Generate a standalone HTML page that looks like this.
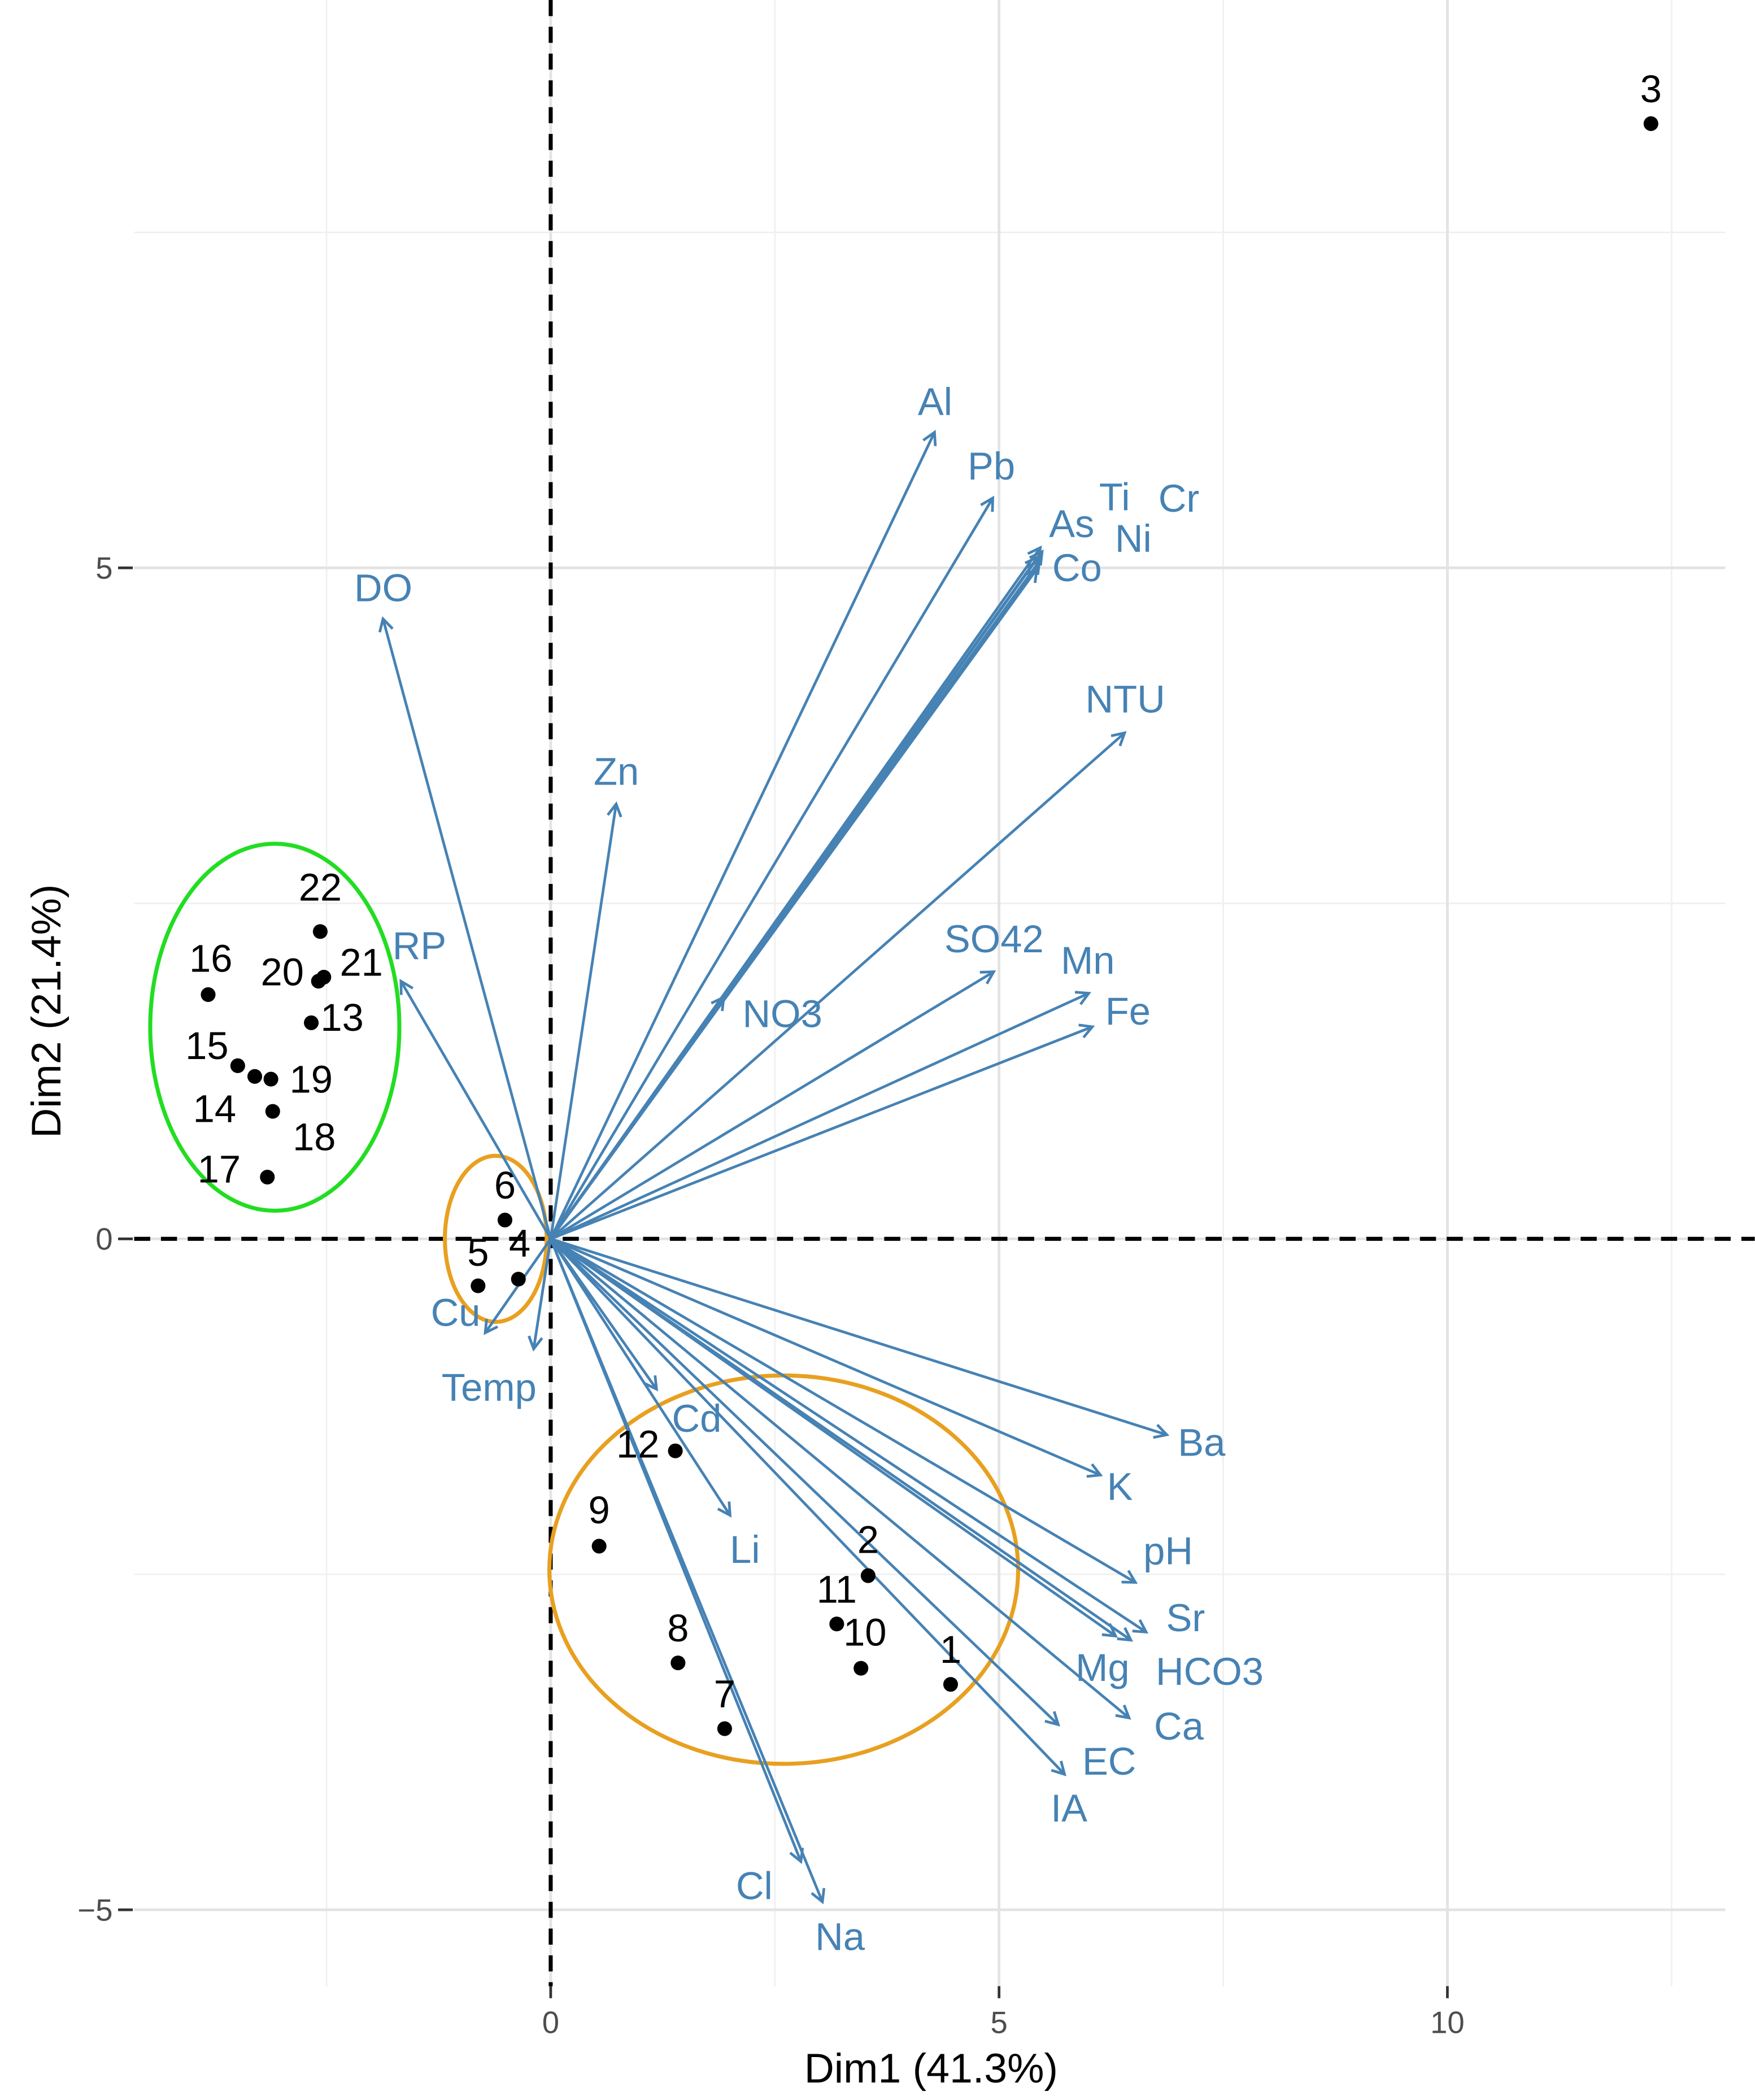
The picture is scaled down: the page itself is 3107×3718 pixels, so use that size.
<!DOCTYPE html>
<html><head><meta charset="utf-8"><style>
html,body{margin:0;padding:0;background:#fff;}
svg{display:block;font-family:"Liberation Sans",sans-serif;}
</style></head><body>
<svg id="chart" width="3107" height="3718" viewBox="0 0 1310 1568" xmlns="http://www.w3.org/2000/svg">
<defs><marker id="ah" markerWidth="12" markerHeight="12" refX="10" refY="6" orient="auto" markerUnits="userSpaceOnUse"><path d="M1,1 L10,6 L1,11" fill="none" stroke="#4682b4" stroke-width="2"/></marker></defs>
<g id="grid"></g>
<g id="ellipses"></g>
<g id="arrows"></g>
<g id="points"></g>
<g id="axes"></g>
</svg>
<script>
const ptLabels=["3","22","21","20","13","16","15","14","19","18","17","6","5","4","12","9","2","11","10","1","8","7"];
const ptX=[12.27,-2.57,-2.53,-2.59,-2.67,-3.82,-3.49,-3.30,-3.12,-3.10,-3.16,-0.51,-0.81,-0.36,1.39,0.54,3.54,3.19,3.46,4.46,1.42,1.94];
const ptY=[8.31,2.29,1.95,1.92,1.61,1.82,1.29,1.21,1.19,0.95,0.46,0.14,-0.35,-0.30,-1.58,-2.29,-2.51,-2.87,-3.20,-3.32,-3.16,-3.65];
const ptLabOff=[[0,-26],[0,-33],[28,-11],[-27,-7],[23,-4],[2,-27],[-23,-15],[-30,24],[30,0],[31,19],[-36,-6],[0,-26],[0,-25],[1,-27],[-28,-5],[0,-27],[0,-27],[0,-26],[3,-27],[0,-26],[0,-26],[0,-26]];
const varNames=["Al","Pb","Ti","Cr","As","Ni","Co","DO","Zn","NTU","RP","NO3","SO42","Mn","Fe","Cu","Temp","Cd","Li","Ba","K","pH","Sr","Mg","HCO3","Ca","EC","IA","Cl","Na"];
const varX=[4.28,4.93,5.46,5.48,5.43,5.45,5.42,-1.87,0.73,6.40,-1.67,1.93,4.94,6.00,6.04,-0.73,-0.19,1.18,2.00,6.87,6.13,6.52,6.64,6.30,6.47,6.45,5.66,5.73,2.79,3.03];
const varY=[6.01,5.52,5.15,5.12,5.08,5.05,4.99,4.62,3.24,3.77,1.92,1.80,1.99,1.83,1.58,-0.70,-0.82,-1.12,-2.06,-1.46,-1.76,-2.56,-2.93,-2.96,-2.99,-3.57,-3.62,-3.99,-4.64,-4.94];
const varLabPos=[[698,300],[740,348],[832,371],[880,372],[800,391],[846,402],[804,424],[286,439],[460,576],[840,522],[313,706],[584,757],[742,701],[812,717],[842,755],[340,980],[365,1036],[520,1059],[556,1157],[897,1077],[836,1110],[872,1158],[885,1208],[823,1245],[903,1248],[880,1289],[828,1315],[798,1350],[563,1408],[627,1446]];
const xTicks=[0,5,10], yTicks=[-5,0,5];
const xMinor=[-2.5,2.5,7.5,12.5], yMinor=[-2.5,2.5,7.5];
const NS="http://www.w3.org/2000/svg";
const X=v=>411+v*66.95, Y=v=>925-v*100.2;
const L=0,R=1288,T=0,B=1483;
function mk(p,tag,a,txt){const e=document.createElementNS(NS,tag);for(const k in a)e.setAttribute(k,a[k]);if(txt!==undefined)e.textContent=txt;p.appendChild(e);return e;}
const g=document.getElementById('grid');
mk(g,'rect',{x:100,y:T,width:R-100,height:B,fill:'#fff'});
xMinor.forEach(v=>{const e=mk(g,'line',{x1:X(v),x2:X(v),y1:T,y2:B,stroke:'#f0f0f0','stroke-width':1.2});});
yMinor.forEach(v=>{const e=mk(g,'line',{x1:100,x2:R,y1:Y(v),y2:Y(v),stroke:'#f0f0f0','stroke-width':1.2});});
xTicks.forEach(v=>{const e=mk(g,'line',{x1:X(v),x2:X(v),y1:T,y2:B,stroke:'#e3e3e3','stroke-width':2});});
yTicks.forEach(v=>{const e=mk(g,'line',{x1:100,x2:R,y1:Y(v),y2:Y(v),stroke:'#e3e3e3','stroke-width':2});});
let e=mk(g,'line',{x1:X(0),x2:X(0),y1:T,y2:B,stroke:'#000','stroke-width':3,'stroke-dasharray':'12,8'});

e=mk(g,'line',{x1:100,x2:R+22,y1:Y(0),y2:Y(0),stroke:'#000','stroke-width':3,'stroke-dasharray':'12,8'});

const el=document.getElementById('ellipses');
e=mk(el,'ellipse',{cx:205,cy:767,rx:93,ry:137,fill:'none',stroke:'#22dd22','stroke-width':3});

e=mk(el,'ellipse',{cx:370,cy:925,rx:38,ry:62,fill:'none',stroke:'#e8a020','stroke-width':3});

e=mk(el,'ellipse',{cx:585,cy:1172,rx:175,ry:145,fill:'none',stroke:'#e8a020','stroke-width':3});

const ag=document.getElementById('arrows');
varNames.forEach((n,i)=>{
 const a=mk(ag,'line',{x1:X(0),y1:Y(0),x2:X(varX[i]),y2:Y(varY[i]),stroke:'#4682b4','stroke-width':2,'marker-end':'url(#ah)'});
 
 
 const t=mk(ag,'text',{x:varLabPos[i][0],y:varLabPos[i][1]+10,'text-anchor':'middle','font-size':29,fill:'#4682b4'},n);
 
 
});
const pg=document.getElementById('points');
ptLabels.forEach((n,i)=>{
 const c=mk(pg,'circle',{cx:X(ptX[i]),cy:Y(ptY[i]),r:5.5,fill:'#000'});
 
 
 const t=mk(pg,'text',{x:X(ptX[i])+ptLabOff[i][0],y:Y(ptY[i])+ptLabOff[i][1]+10,'text-anchor':'middle','font-size':29,fill:'#000'},n);
 
 
});
const ax=document.getElementById('axes');
yTicks.forEach(v=>{
 const k=mk(ax,'line',{x1:88,x2:99,y1:Y(v),y2:Y(v),stroke:'#333','stroke-width':2});
 
 const t=mk(ax,'text',{x:84,y:Y(v)+8,'text-anchor':'end','font-size':23,fill:'#4d4d4d'},v<0?'\u2212'+(-v):String(v));
 
});
xTicks.forEach(v=>{
 const k=mk(ax,'line',{x1:X(v),x2:X(v),y1:B,y2:B+9,stroke:'#333','stroke-width':2});
 
 const t=mk(ax,'text',{x:X(v),y:B+35,'text-anchor':'middle','font-size':23,fill:'#4d4d4d'},String(v));
 
});
e=mk(ax,'text',{x:695,y:1555,'text-anchor':'middle','font-size':31,fill:'#000'},'Dim1 (41.3%)');

e=mk(ax,'text',{x:45,y:755,'text-anchor':'middle','font-size':31,fill:'#000',transform:'rotate(-90 45 755)'},'Dim2 (21.4%)');

</script>
</body></html>
